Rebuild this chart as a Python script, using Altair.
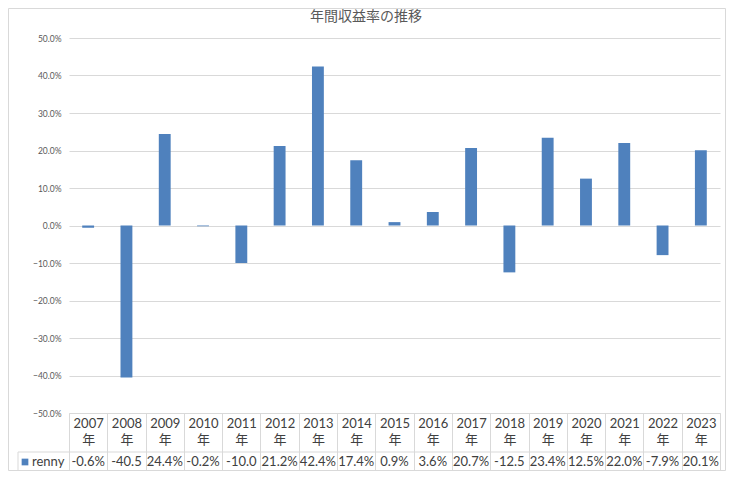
import altair as alt
import pandas as pd

years = ["2007", "2008", "2009", "2010", "2011", "2012", "2013", "2014", "2015",
         "2016", "2017", "2018", "2019", "2020", "2021", "2022", "2023"]
values = [-0.6, -40.5, 24.4, -0.2, -10.0, 21.2, 42.4, 17.4, 0.9,
          3.6, 20.7, -12.5, 23.4, 12.5, 22.0, -7.9, 20.1]
series_name = "renny"
title_text = "年間収益率の推移"
y_ticks = [-50, -40, -30, -20, -10, 0, 10, 20, 30, 40, 50]

# Excel data table cells truncate to the column width (5 characters)
labels = [f"{v:.1f}%"[:5] for v in values]

df = pd.DataFrame({"year": years, "value": values, "label": labels})
one = pd.DataFrame({"k": [0]})

W, H = 651, 375
BLUE = "#4F81BD"
GRID = "#D9D9D9"
TXT = "#404040"
FONT = "Lato, 'Noto Sans CJK JP', sans-serif"

xenc = alt.X(
    "year:N", sort=None,
    scale=alt.Scale(paddingInner=0, paddingOuter=0),
    axis=alt.Axis(
        title=None, labelAngle=0,
        labelExpr="datum.label ? [datum.label, '年'] : ''",
        labelFont=FONT, labelFontSize=13, labelColor=TXT,
        labelBaseline="top", labelPadding=-55, labelLineHeight=16,
        labelFlush=False, labelOverlap=False, labelBound=False,
        tickBand="extent", tickSize=59, tickColor=GRID, tickWidth=1,
        domainColor=GRID, grid=False,
    ),
)

bars = alt.Chart(df).mark_bar(color=BLUE, width=alt.RelativeBandSize(0.31)).encode(
    x=xenc,
    y=alt.Y(
        "value:Q",
        scale=alt.Scale(domain=[-50, 50], nice=False),
        axis=alt.Axis(
            title=None, values=y_ticks,
            labelExpr="format(datum.value / 100, '.1%')",
            labelFont=FONT, labelFontSize=8.5, labelColor="#595959",
            labelPadding=8, domain=False, ticks=False,
            gridColor=GRID, gridWidth=1,
        ),
    ),
)

table_text = alt.Chart(df).mark_text(font=FONT, fontSize=13, color=TXT).encode(
    x=alt.X("year:N", sort=None),
    y=alt.value(H + 49),
    text="label:N",
)

hline1 = alt.Chart(one).mark_rule(color=GRID, strokeWidth=1).encode(
    x=alt.value(-51), x2=alt.value(W), y=alt.value(H + 39))
hline2 = alt.Chart(one).mark_rule(color=GRID, strokeWidth=1).encode(
    x=alt.value(-51), x2=alt.value(W), y=alt.value(H + 59))
vline = alt.Chart(one).mark_rule(color=GRID, strokeWidth=1).encode(
    x=alt.value(-51), y=alt.value(H + 39), y2=alt.value(H + 59))

legend_sq = alt.Chart(one).mark_square(color=BLUE, size=45, opacity=1).encode(
    x=alt.value(-44), y=alt.value(H + 49))
legend_txt = alt.Chart(pd.DataFrame({"name": [series_name]})).mark_text(
    font=FONT, fontSize=13, color=TXT, align="left").encode(
    x=alt.value(-37), y=alt.value(H + 49), text="name:N")

title = alt.Chart(pd.DataFrame({"t": [title_text]})).mark_text(
    font="'Noto Sans CJK JP', sans-serif", fontSize=14, color="#595959",
    align="center", baseline="middle").encode(
    x=alt.value(297), y=alt.value(-21), text="t:N")

border = alt.Chart(one).mark_rect(filled=False, stroke=GRID, strokeWidth=1).encode(
    x=alt.value(-60.5), x2=alt.value(W + 5.5), y=alt.value(-29.5), y2=alt.value(H + 57.5))

chart = alt.layer(
    border, bars, table_text, hline1, hline2, vline, legend_sq, legend_txt, title
).properties(
    width=W, height=H,
    autosize=alt.AutoSizeParams(type="none"),
    padding={"left": 61, "top": 30, "right": 6, "bottom": 58},
).configure_view(stroke=None)

chart.save("out.html", embed_options={"renderer": "svg", "actions": False})
